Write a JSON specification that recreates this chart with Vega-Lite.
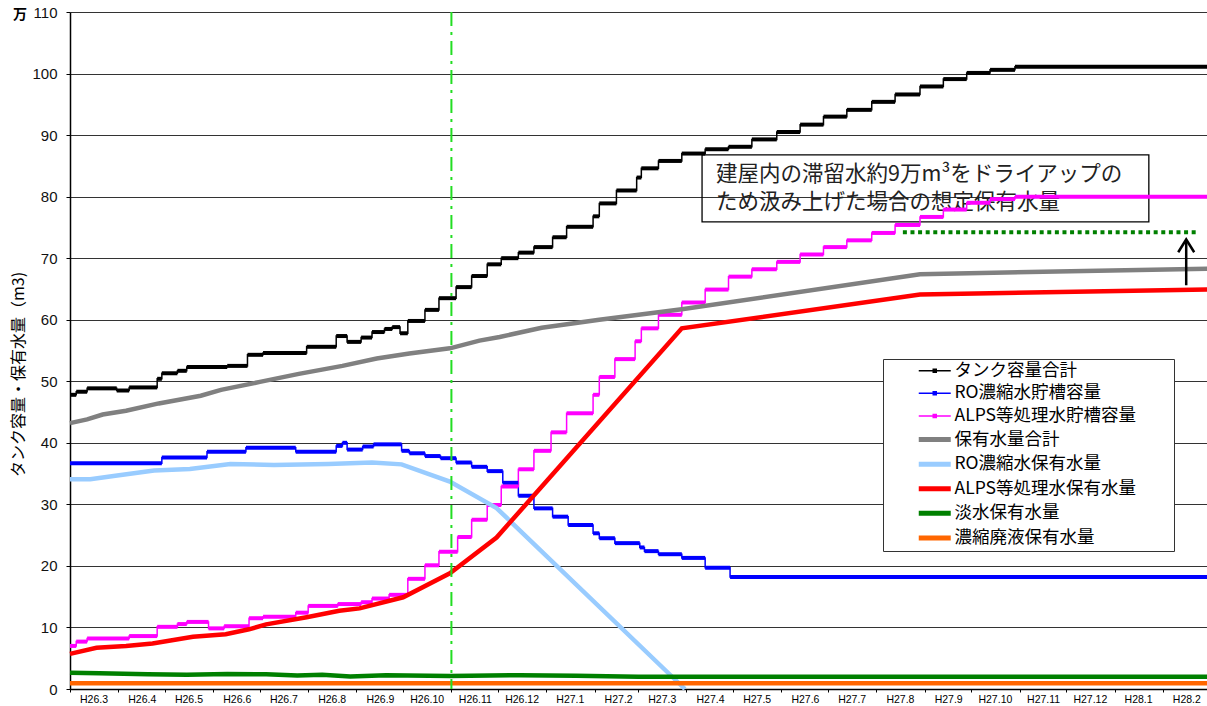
{
  "$schema": "https://vega.github.io/schema/vega-lite/v6.json",
  "width": 1138,
  "height": 677,
  "autosize": {"type": "none"},
  "padding": {"left": 70, "top": 12, "right": 0, "bottom": 17},
  "background": "white",
  "title": {"text": "万", "anchor": "start", "frame": "group", "orient": "top", "offset": 0, "dx": -57, "dy": 17, "fontSize": 14, "fontWeight": "bold", "font": "Noto Sans CJK JP", "color": "#000"},
  "config": {"view": {"stroke": null}, "font": "Liberation Sans"},
  "datasets": {
    "steps": [
      {"s": "タンク容量合計", "d": "2014-03-01", "v": 47.8},
      {"s": "タンク容量合計", "d": "2014-03-05", "v": 48.3},
      {"s": "タンク容量合計", "d": "2014-03-12", "v": 48.85},
      {"s": "タンク容量合計", "d": "2014-03-31", "v": 48.5},
      {"s": "タンク容量合計", "d": "2014-04-08", "v": 49.0},
      {"s": "タンク容量合計", "d": "2014-04-26", "v": 50.4},
      {"s": "タンク容量合計", "d": "2014-04-29", "v": 51.3},
      {"s": "タンク容量合計", "d": "2014-05-09", "v": 51.7},
      {"s": "タンク容量合計", "d": "2014-05-15", "v": 52.3},
      {"s": "タンク容量合計", "d": "2014-06-10", "v": 52.5},
      {"s": "タンク容量合計", "d": "2014-06-23", "v": 54.3},
      {"s": "タンク容量合計", "d": "2014-07-03", "v": 54.6},
      {"s": "タンク容量合計", "d": "2014-07-31", "v": 55.6},
      {"s": "タンク容量合計", "d": "2014-08-19", "v": 57.35},
      {"s": "タンク容量合計", "d": "2014-08-26", "v": 56.4},
      {"s": "タンク容量合計", "d": "2014-09-04", "v": 57.1},
      {"s": "タンク容量合計", "d": "2014-09-11", "v": 58.0},
      {"s": "タンク容量合計", "d": "2014-09-19", "v": 58.5},
      {"s": "タンク容量合計", "d": "2014-09-24", "v": 58.8},
      {"s": "タンク容量合計", "d": "2014-09-29", "v": 57.8},
      {"s": "タンク容量合計", "d": "2014-10-04", "v": 59.8},
      {"s": "タンク容量合計", "d": "2014-10-15", "v": 61.6},
      {"s": "タンク容量合計", "d": "2014-10-24", "v": 63.5},
      {"s": "タンク容量合計", "d": "2014-11-04", "v": 65.3},
      {"s": "タンク容量合計", "d": "2014-11-14", "v": 67.1},
      {"s": "タンク容量合計", "d": "2014-11-24", "v": 69.0},
      {"s": "タンク容量合計", "d": "2014-12-03", "v": 70.0},
      {"s": "タンク容量合計", "d": "2014-12-14", "v": 70.9},
      {"s": "タンク容量合計", "d": "2014-12-24", "v": 71.8},
      {"s": "タンク容量合計", "d": "2015-01-05", "v": 73.4},
      {"s": "タンク容量合計", "d": "2015-01-14", "v": 75.1},
      {"s": "タンク容量合計", "d": "2015-01-31", "v": 76.8},
      {"s": "タンク容量合計", "d": "2015-02-04", "v": 78.9},
      {"s": "タンク容量合計", "d": "2015-02-15", "v": 81.0},
      {"s": "タンク容量合計", "d": "2015-02-28", "v": 83.1},
      {"s": "タンク容量合計", "d": "2015-03-03", "v": 84.6},
      {"s": "タンク容量合計", "d": "2015-03-14", "v": 85.8},
      {"s": "タンク容量合計", "d": "2015-03-29", "v": 87.0},
      {"s": "タンク容量合計", "d": "2015-04-13", "v": 87.7},
      {"s": "タンク容量合計", "d": "2015-04-28", "v": 88.1},
      {"s": "タンク容量合計", "d": "2015-05-13", "v": 89.3},
      {"s": "タンク容量合計", "d": "2015-05-29", "v": 90.5},
      {"s": "タンク容量合計", "d": "2015-06-13", "v": 91.7},
      {"s": "タンク容量合計", "d": "2015-06-28", "v": 93.0},
      {"s": "タンク容量合計", "d": "2015-07-13", "v": 94.1},
      {"s": "タンク容量合計", "d": "2015-07-29", "v": 95.4},
      {"s": "タンク容量合計", "d": "2015-08-13", "v": 96.6},
      {"s": "タンク容量合計", "d": "2015-08-29", "v": 97.9},
      {"s": "タンク容量合計", "d": "2015-09-13", "v": 99.1},
      {"s": "タンク容量合計", "d": "2015-09-28", "v": 100.1},
      {"s": "タンク容量合計", "d": "2015-10-13", "v": 100.6},
      {"s": "タンク容量合計", "d": "2015-10-29", "v": 101.1},
      {"s": "タンク容量合計", "d": "2016-03-01", "v": 101.1},
      {"s": "RO濃縮水貯槽容量", "d": "2014-03-01", "v": 36.7},
      {"s": "RO濃縮水貯槽容量", "d": "2014-04-29", "v": 37.6},
      {"s": "RO濃縮水貯槽容量", "d": "2014-05-28", "v": 38.55},
      {"s": "RO濃縮水貯槽容量", "d": "2014-06-22", "v": 39.2},
      {"s": "RO濃縮水貯槽容量", "d": "2014-07-24", "v": 38.55},
      {"s": "RO濃縮水貯槽容量", "d": "2014-08-19", "v": 39.5},
      {"s": "RO濃縮水貯槽容量", "d": "2014-08-23", "v": 40.0},
      {"s": "RO濃縮水貯槽容量", "d": "2014-08-26", "v": 38.9},
      {"s": "RO濃縮水貯槽容量", "d": "2014-09-05", "v": 39.4},
      {"s": "RO濃縮水貯槽容量", "d": "2014-09-12", "v": 39.75},
      {"s": "RO濃縮水貯槽容量", "d": "2014-09-30", "v": 38.7},
      {"s": "RO濃縮水貯槽容量", "d": "2014-10-05", "v": 38.3},
      {"s": "RO濃縮水貯槽容量", "d": "2014-10-15", "v": 37.85},
      {"s": "RO濃縮水貯槽容量", "d": "2014-10-25", "v": 37.5},
      {"s": "RO濃縮水貯槽容量", "d": "2014-11-04", "v": 36.8},
      {"s": "RO濃縮水貯槽容量", "d": "2014-11-14", "v": 36.1},
      {"s": "RO濃縮水貯槽容量", "d": "2014-11-24", "v": 35.4},
      {"s": "RO濃縮水貯槽容量", "d": "2014-12-04", "v": 33.5},
      {"s": "RO濃縮水貯槽容量", "d": "2014-12-14", "v": 31.4},
      {"s": "RO濃縮水貯槽容量", "d": "2014-12-24", "v": 29.35},
      {"s": "RO濃縮水貯槽容量", "d": "2015-01-05", "v": 28.0},
      {"s": "RO濃縮水貯槽容量", "d": "2015-01-15", "v": 26.65},
      {"s": "RO濃縮水貯槽容量", "d": "2015-01-31", "v": 25.3},
      {"s": "RO濃縮水貯槽容量", "d": "2015-02-04", "v": 24.5},
      {"s": "RO濃縮水貯槽容量", "d": "2015-02-14", "v": 23.7},
      {"s": "RO濃縮水貯槽容量", "d": "2015-03-02", "v": 23.0},
      {"s": "RO濃縮水貯槽容量", "d": "2015-03-05", "v": 22.4},
      {"s": "RO濃縮水貯槽容量", "d": "2015-03-14", "v": 21.9},
      {"s": "RO濃縮水貯槽容量", "d": "2015-03-29", "v": 21.3},
      {"s": "RO濃縮水貯槽容量", "d": "2015-04-13", "v": 19.7},
      {"s": "RO濃縮水貯槽容量", "d": "2015-04-29", "v": 18.2},
      {"s": "RO濃縮水貯槽容量", "d": "2016-03-01", "v": 18.2},
      {"s": "ALPS等処理水貯槽容量", "d": "2014-03-01", "v": 7.0},
      {"s": "ALPS等処理水貯槽容量", "d": "2014-03-05", "v": 7.7},
      {"s": "ALPS等処理水貯槽容量", "d": "2014-03-12", "v": 8.2},
      {"s": "ALPS等処理水貯槽容量", "d": "2014-04-08", "v": 8.6},
      {"s": "ALPS等処理水貯槽容量", "d": "2014-04-26", "v": 10.1},
      {"s": "ALPS等処理水貯槽容量", "d": "2014-05-09", "v": 10.55},
      {"s": "ALPS等処理水貯槽容量", "d": "2014-05-15", "v": 10.9},
      {"s": "ALPS等処理水貯槽容量", "d": "2014-05-29", "v": 9.85},
      {"s": "ALPS等処理水貯槽容量", "d": "2014-06-08", "v": 10.2},
      {"s": "ALPS等処理水貯槽容量", "d": "2014-06-24", "v": 11.5},
      {"s": "ALPS等処理水貯槽容量", "d": "2014-07-03", "v": 11.75},
      {"s": "ALPS等処理水貯槽容量", "d": "2014-07-24", "v": 12.4},
      {"s": "ALPS等処理水貯槽容量", "d": "2014-08-01", "v": 13.5},
      {"s": "ALPS等処理水貯槽容量", "d": "2014-08-20", "v": 13.8},
      {"s": "ALPS等処理水貯槽容量", "d": "2014-09-04", "v": 14.1},
      {"s": "ALPS等処理水貯槽容量", "d": "2014-09-11", "v": 14.7},
      {"s": "ALPS等処理水貯槽容量", "d": "2014-09-22", "v": 15.3},
      {"s": "ALPS等処理水貯槽容量", "d": "2014-10-04", "v": 17.9},
      {"s": "ALPS等処理水貯槽容量", "d": "2014-10-15", "v": 20.1},
      {"s": "ALPS等処理水貯槽容量", "d": "2014-10-24", "v": 22.3},
      {"s": "ALPS等処理水貯槽容量", "d": "2014-11-05", "v": 24.7},
      {"s": "ALPS等処理水貯槽容量", "d": "2014-11-14", "v": 27.5},
      {"s": "ALPS等処理水貯槽容量", "d": "2014-11-24", "v": 29.9},
      {"s": "ALPS等処理水貯槽容量", "d": "2014-12-03", "v": 32.9},
      {"s": "ALPS等処理水貯槽容量", "d": "2014-12-14", "v": 35.7},
      {"s": "ALPS等処理水貯槽容量", "d": "2014-12-24", "v": 38.7},
      {"s": "ALPS等処理水貯槽容量", "d": "2015-01-04", "v": 41.7},
      {"s": "ALPS等処理水貯槽容量", "d": "2015-01-14", "v": 44.8},
      {"s": "ALPS等処理水貯槽容量", "d": "2015-01-31", "v": 47.8},
      {"s": "ALPS等処理水貯槽容量", "d": "2015-02-04", "v": 50.7},
      {"s": "ALPS等処理水貯槽容量", "d": "2015-02-14", "v": 53.6},
      {"s": "ALPS等処理水貯槽容量", "d": "2015-02-27", "v": 56.5},
      {"s": "ALPS等処理水貯槽容量", "d": "2015-03-03", "v": 58.6},
      {"s": "ALPS等処理水貯槽容量", "d": "2015-03-14", "v": 60.8},
      {"s": "ALPS等処理水貯槽容量", "d": "2015-03-29", "v": 62.8},
      {"s": "ALPS等処理水貯槽容量", "d": "2015-04-13", "v": 64.9},
      {"s": "ALPS等処理水貯槽容量", "d": "2015-04-28", "v": 67.0},
      {"s": "ALPS等処理水貯槽容量", "d": "2015-05-13", "v": 68.2},
      {"s": "ALPS等処理水貯槽容量", "d": "2015-05-29", "v": 69.4},
      {"s": "ALPS等処理水貯槽容量", "d": "2015-06-13", "v": 70.6},
      {"s": "ALPS等処理水貯槽容量", "d": "2015-06-28", "v": 71.8},
      {"s": "ALPS等処理水貯槽容量", "d": "2015-07-13", "v": 72.9},
      {"s": "ALPS等処理水貯槽容量", "d": "2015-07-29", "v": 74.1},
      {"s": "ALPS等処理水貯槽容量", "d": "2015-08-13", "v": 75.4},
      {"s": "ALPS等処理水貯槽容量", "d": "2015-08-29", "v": 76.7},
      {"s": "ALPS等処理水貯槽容量", "d": "2015-09-13", "v": 77.9},
      {"s": "ALPS等処理水貯槽容量", "d": "2015-09-28", "v": 79.0},
      {"s": "ALPS等処理水貯槽容量", "d": "2015-10-13", "v": 79.6},
      {"s": "ALPS等処理水貯槽容量", "d": "2015-10-29", "v": 80.0},
      {"s": "ALPS等処理水貯槽容量", "d": "2016-03-01", "v": 80.0}
    ],
    "smooth": [
      {"s": "保有水量合計", "d": "2014-03-01", "v": 43.2},
      {"s": "保有水量合計", "d": "2014-03-12", "v": 43.8},
      {"s": "保有水量合計", "d": "2014-03-22", "v": 44.6},
      {"s": "保有水量合計", "d": "2014-04-06", "v": 45.2},
      {"s": "保有水量合計", "d": "2014-04-27", "v": 46.4},
      {"s": "保有水量合計", "d": "2014-05-24", "v": 47.65},
      {"s": "保有水量合計", "d": "2014-06-06", "v": 48.6},
      {"s": "保有水量合計", "d": "2014-07-01", "v": 49.9},
      {"s": "保有水量合計", "d": "2014-07-26", "v": 51.2},
      {"s": "保有水量合計", "d": "2014-08-23", "v": 52.5},
      {"s": "保有水量合計", "d": "2014-09-14", "v": 53.7},
      {"s": "保有水量合計", "d": "2014-10-05", "v": 54.5},
      {"s": "保有水量合計", "d": "2014-10-31", "v": 55.35},
      {"s": "保有水量合計", "d": "2014-11-19", "v": 56.6},
      {"s": "保有水量合計", "d": "2014-12-02", "v": 57.2},
      {"s": "保有水量合計", "d": "2014-12-29", "v": 58.7},
      {"s": "保有水量合計", "d": "2015-02-04", "v": 60.0},
      {"s": "保有水量合計", "d": "2015-03-29", "v": 61.7},
      {"s": "保有水量合計", "d": "2015-08-29", "v": 67.4},
      {"s": "保有水量合計", "d": "2016-03-01", "v": 68.3},
      {"s": "RO濃縮水保有水量", "d": "2014-03-01", "v": 34.1},
      {"s": "RO濃縮水保有水量", "d": "2014-03-14", "v": 34.1},
      {"s": "RO濃縮水保有水量", "d": "2014-03-29", "v": 34.6},
      {"s": "RO濃縮水保有水量", "d": "2014-04-24", "v": 35.5},
      {"s": "RO濃縮水保有水量", "d": "2014-05-17", "v": 35.75},
      {"s": "RO濃縮水保有水量", "d": "2014-06-12", "v": 36.55},
      {"s": "RO濃縮水保有水量", "d": "2014-07-10", "v": 36.4},
      {"s": "RO濃縮水保有水量", "d": "2014-08-14", "v": 36.55},
      {"s": "RO濃縮水保有水量", "d": "2014-09-11", "v": 36.8},
      {"s": "RO濃縮水保有水量", "d": "2014-09-30", "v": 36.5},
      {"s": "RO濃縮水保有水量", "d": "2014-10-31", "v": 33.7},
      {"s": "RO濃縮水保有水量", "d": "2014-11-30", "v": 29.4},
      {"s": "RO濃縮水保有水量", "d": "2015-03-31", "v": 0.0},
      {"s": "ALPS等処理水保有水量", "d": "2014-03-01", "v": 5.7},
      {"s": "ALPS等処理水保有水量", "d": "2014-03-18", "v": 6.7},
      {"s": "ALPS等処理水保有水量", "d": "2014-04-06", "v": 7.0},
      {"s": "ALPS等処理水保有水量", "d": "2014-04-23", "v": 7.4},
      {"s": "ALPS等処理水保有水量", "d": "2014-05-19", "v": 8.5},
      {"s": "ALPS等処理水保有水量", "d": "2014-06-09", "v": 8.9},
      {"s": "ALPS等処理水保有水量", "d": "2014-06-24", "v": 9.7},
      {"s": "ALPS等処理水保有水量", "d": "2014-07-05", "v": 10.5},
      {"s": "ALPS等処理水保有水量", "d": "2014-07-31", "v": 11.65},
      {"s": "ALPS等処理水保有水量", "d": "2014-08-21", "v": 12.7},
      {"s": "ALPS等処理水保有水量", "d": "2014-09-03", "v": 13.1},
      {"s": "ALPS等処理水保有水量", "d": "2014-10-01", "v": 14.9},
      {"s": "ALPS等処理水保有水量", "d": "2014-10-31", "v": 18.8},
      {"s": "ALPS等処理水保有水量", "d": "2014-11-30", "v": 24.6},
      {"s": "ALPS等処理水保有水量", "d": "2015-03-29", "v": 58.6},
      {"s": "ALPS等処理水保有水量", "d": "2015-08-29", "v": 64.1},
      {"s": "ALPS等処理水保有水量", "d": "2016-03-01", "v": 64.9},
      {"s": "淡水保有水量", "d": "2014-03-01", "v": 2.65},
      {"s": "淡水保有水量", "d": "2014-03-20", "v": 2.55},
      {"s": "淡水保有水量", "d": "2014-04-20", "v": 2.4},
      {"s": "淡水保有水量", "d": "2014-05-15", "v": 2.3},
      {"s": "淡水保有水量", "d": "2014-06-10", "v": 2.45},
      {"s": "淡水保有水量", "d": "2014-07-05", "v": 2.4},
      {"s": "淡水保有水量", "d": "2014-07-25", "v": 2.2},
      {"s": "淡水保有水量", "d": "2014-08-10", "v": 2.3},
      {"s": "淡水保有水量", "d": "2014-08-28", "v": 2.05},
      {"s": "淡水保有水量", "d": "2014-09-20", "v": 2.25},
      {"s": "淡水保有水量", "d": "2014-10-31", "v": 2.1},
      {"s": "淡水保有水量", "d": "2014-12-15", "v": 2.25},
      {"s": "淡水保有水量", "d": "2015-01-20", "v": 2.15},
      {"s": "淡水保有水量", "d": "2015-03-01", "v": 2.0},
      {"s": "淡水保有水量", "d": "2016-03-01", "v": 2.0},
      {"s": "濃縮廃液保有水量", "d": "2014-03-01", "v": 0.95},
      {"s": "濃縮廃液保有水量", "d": "2016-03-01", "v": 0.95}
    ]
  },
  "layer": [
    {
      "data": {"values": [{"d": "2015-04-11", "d2": "2016-01-23", "v": 86.8, "v2": 75.9}]},
      "mark": {"type": "rect", "fill": "transparent", "stroke": "#000", "strokeWidth": 1.3},
      "encoding": {
        "x": {"field": "d", "type": "temporal"},
        "x2": {"field": "d2"},
        "y": {"field": "v", "type": "quantitative"},
        "y2": {"field": "v2"}
      }
    },
    {
      "data": {"values": [
        {"d": "2015-04-20", "v": 83.5, "t": "建屋内の滞留水約9万m³をドライアップの"},
        {"d": "2015-04-20", "v": 78.9, "t": "ため汲み上げた場合の想定保有水量"}
      ]},
      "mark": {"type": "text", "align": "left", "baseline": "middle", "fontSize": 21.5, "font": "Noto Sans CJK JP", "color": "#222"},
      "encoding": {
        "x": {"field": "d", "type": "temporal"},
        "y": {"field": "v", "type": "quantitative"},
        "text": {"field": "t"}
      }
    },
    {
      "data": {"name": "steps"},
      "mark": {"type": "line", "interpolate": "step-after", "strokeWidth": 1.5},
      "encoding": {
        "x": {
          "field": "d", "type": "temporal",
          "scale": {"type": "utc", "domain": [{"year": 2014, "month": 3, "date": 1, "utc": true}, {"year": 2016, "month": 3, "date": 1, "utc": true}]},
          "axis": {
            "values": [
              {"year": 2014, "month": 3, "date": 1, "utc": true}, {"year": 2014, "month": 4, "date": 1, "utc": true},
              {"year": 2014, "month": 5, "date": 1, "utc": true}, {"year": 2014, "month": 6, "date": 1, "utc": true},
              {"year": 2014, "month": 7, "date": 1, "utc": true}, {"year": 2014, "month": 8, "date": 1, "utc": true},
              {"year": 2014, "month": 9, "date": 1, "utc": true}, {"year": 2014, "month": 10, "date": 1, "utc": true},
              {"year": 2014, "month": 11, "date": 1, "utc": true}, {"year": 2014, "month": 12, "date": 1, "utc": true},
              {"year": 2015, "month": 1, "date": 1, "utc": true}, {"year": 2015, "month": 2, "date": 1, "utc": true},
              {"year": 2015, "month": 3, "date": 1, "utc": true}, {"year": 2015, "month": 4, "date": 1, "utc": true},
              {"year": 2015, "month": 5, "date": 1, "utc": true}, {"year": 2015, "month": 6, "date": 1, "utc": true},
              {"year": 2015, "month": 7, "date": 1, "utc": true}, {"year": 2015, "month": 8, "date": 1, "utc": true},
              {"year": 2015, "month": 9, "date": 1, "utc": true}, {"year": 2015, "month": 10, "date": 1, "utc": true},
              {"year": 2015, "month": 11, "date": 1, "utc": true}, {"year": 2015, "month": 12, "date": 1, "utc": true},
              {"year": 2016, "month": 1, "date": 1, "utc": true}, {"year": 2016, "month": 2, "date": 1, "utc": true}
            ],
            "labelExpr": "'H' + (utcyear(datum.value) - 1988) + '.' + (utcmonth(datum.value) + 1)",
            "labelOffset": 23.5,
            "labelAlign": "center",
            "labelFlush": false,
            "labelOverlap": false,
            "labelFontSize": 10.5,
            "labelFont": "Liberation Sans",
            "labelColor": "#000",
            "labelPadding": 2,
            "tickSize": 3,
            "tickColor": "#000",
            "domainColor": "#000",
            "domainWidth": 1.5,
            "grid": false,
            "title": null
          }
        },
        "y": {
          "field": "v", "type": "quantitative",
          "scale": {"domain": [0, 110], "nice": false, "zero": true},
          "axis": {
            "values": [0, 10, 20, 30, 40, 50, 60, 70, 80, 90, 100, 110],
            "grid": true,
            "gridColor": "#333",
            "gridWidth": 1,
            "tickSize": 4,
            "tickColor": "#000",
            "domainColor": "#000",
            "domainWidth": 1.5,
            "labelFontSize": 15,
            "labelFont": "Liberation Sans",
            "labelColor": "#111",
            "labelPadding": 9,
            "title": "タンク容量・保有水量（m3)",
            "titleFont": "Noto Sans CJK JP",
            "titleFontSize": 16,
            "titleFontWeight": "normal",
            "titleColor": "#000",
            "titleAngle": -90,
            "titleX": -52,
            "titleY": 362,
            "titleAlign": "center",
            "titleBaseline": "middle"
          }
        },
        "color": {
          "field": "s", "type": "nominal",
          "scale": {
            "domain": ["タンク容量合計", "RO濃縮水貯槽容量", "ALPS等処理水貯槽容量", "保有水量合計", "RO濃縮水保有水量", "ALPS等処理水保有水量", "淡水保有水量", "濃縮廃液保有水量"],
            "range": ["#000000", "#0000FF", "#FF00FF", "#808080", "#99CCFF", "#FF0000", "#008000", "#FF6600"]
          },
          "legend": {
            "orient": "none",
            "legendX": 813,
            "legendY": 347,
            "title": null,
            "padding": 3,
            "fillColor": "#ffffff",
            "strokeColor": "#333333",
            "symbolType": "M-1.6,0H1.6",
            "symbolSize": 400,
            "symbolOffset": 40,
            "symbolStrokeWidth": 4,
            "labelOffset": 11,
            "rowPadding": 3.6,
            "labelFont": "Noto Sans CJK JP",
            "labelFontSize": 17.5,
            "labelColor": "#000",
            "labelLimit": 400,
            "labelExpr": "datum.label + '\u3000\u3000\u200b'",
            "encode": {
              "symbols": {
                "update": {
                  "shape": {"signal": "indexof(['タンク容量合計','RO濃縮水貯槽容量','ALPS等処理水貯槽容量'], datum.value) >= 0 ? 'M-1.6,0H1.6M-0.15,-0.15H0.15V0.15H-0.15Z' : 'M-1.6,0H1.6'"},
                  "strokeWidth": {"signal": "indexof(['タンク容量合計','RO濃縮水貯槽容量','ALPS等処理水貯槽容量'], datum.value) >= 0 ? 1.5 : 5"}
                }
              }
            }
          }
        },
        "detail": {"field": "s"}
      }
    },
    {
      "data": {"name": "steps"},
      "transform": [
        {"window": [{"op": "lead", "field": "d", "as": "next"}], "groupby": ["s"], "sort": [{"field": "d"}]},
        {"filter": "datum.next != null"}
      ],
      "mark": {"type": "rule", "strokeWidth": 4, "strokeCap": "butt"},
      "encoding": {
        "x": {"field": "d", "type": "temporal"},
        "x2": {"field": "next"},
        "y": {"field": "v", "type": "quantitative"},
        "color": {"field": "s", "type": "nominal"}
      }
    },
    {
      "data": {"name": "smooth"},
      "mark": {"type": "line", "strokeWidth": 4.5},
      "encoding": {
        "x": {"field": "d", "type": "temporal"},
        "y": {"field": "v", "type": "quantitative"},
        "color": {"field": "s", "type": "nominal"},
        "detail": {"field": "s"}
      }
    },
    {
      "data": {"values": [{"d": "2015-08-18", "d2": "2016-02-23", "v": 74.2}]},
      "mark": {"type": "rule", "color": "#008000", "strokeWidth": 4, "strokeDash": [4, 3.6], "strokeCap": "butt"},
      "encoding": {
        "x": {"field": "d", "type": "temporal"},
        "x2": {"field": "d2"},
        "y": {"field": "v", "type": "quantitative"}
      }
    },
    {
      "data": {"values": [{"d": "2016-02-16", "v": 65.6, "v2": 72.8}]},
      "mark": {"type": "rule", "color": "#000", "strokeWidth": 2.5},
      "encoding": {
        "x": {"field": "d", "type": "temporal"},
        "y": {"field": "v", "type": "quantitative"},
        "y2": {"field": "v2"}
      }
    },
    {
      "data": {"values": [{"d": "2016-02-16", "v": 72.0}]},
      "mark": {"type": "point", "shape": "M-1,0.8L0,-0.8L1,0.8", "filled": false, "stroke": "#000", "strokeWidth": 2.5, "size": 256, "opacity": 1},
      "encoding": {
        "x": {"field": "d", "type": "temporal"},
        "y": {"field": "v", "type": "quantitative"}
      }
    },
    {
      "data": {"values": [{"d": "2014-11-01"}]},
      "mark": {"type": "rule", "color": "#22DD22", "strokeWidth": 2, "strokeDash": [14, 6, 3, 6]},
      "encoding": {
        "x": {"field": "d", "type": "temporal"}
      }
    }
  ]
}
